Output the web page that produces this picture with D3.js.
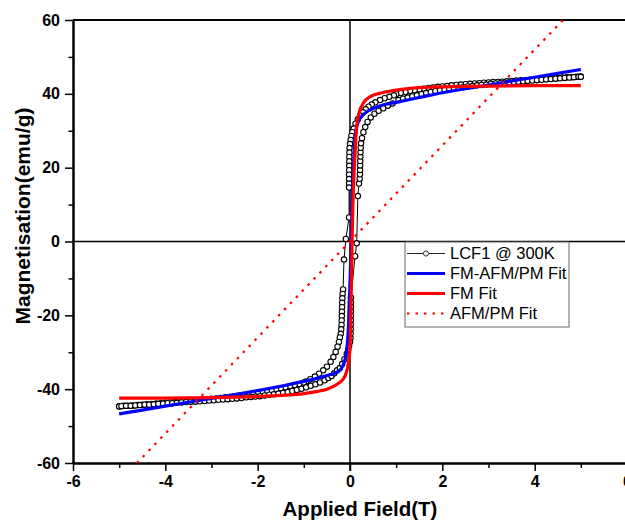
<!DOCTYPE html>
<html>
<head>
<meta charset="utf-8">
<script src="https://cdn.jsdelivr.net/npm/d3@7"></script>
<style>
  body { margin: 0; background: #fff; }
  svg { display: block; }
  text { font-family: "Liberation Sans", Arial, sans-serif; }
</style>
</head>
<body>
<div id="chart"></div>
<script>
// measured loop, LCF1 @ 300K : [field (T), magnetisation (emu/g)]
const descBranch = [
  [5.0,44.7],[4.9,44.6],[4.8,44.5],[4.7,44.5],[4.6,44.4],[4.5,44.3],[4.4,44.2],[4.3,44.1],[4.2,44.1],[4.1,44.0],
  [4.0,43.9],[3.9,43.8],[3.8,43.7],[3.7,43.7],[3.6,43.6],[3.5,43.5],[3.4,43.4],[3.3,43.3],[3.2,43.2],[3.1,43.2],
  [3.0,43.1],[2.9,43.0],[2.8,42.9],[2.7,42.8],[2.6,42.7],[2.5,42.6],[2.4,42.5],[2.3,42.4],[2.2,42.3],[2.1,42.1],
  [2.0,42.0],[1.9,41.9],[1.8,41.7],[1.7,41.6],[1.6,41.4],[1.5,41.2],[1.4,41.0],[1.3,40.8],[1.2,40.5],[1.1,40.2],
  [1.0,39.9],[0.95,39.6],[0.85,39.2],[0.75,38.8],[0.65,38.3],[0.55,37.7],[0.47,37.1],[0.4,36.5],[0.34,35.8],
  [0.28,35.0],[0.22,34.1],[0.17,33.1],[0.12,31.9],[0.08,30.6],[0.05,29.6],[0.03,28.6],[0.015,27.5],[0.0,26.4],
  [-0.01,25.3],[-0.013,24.1],[-0.015,22.9],[-0.016,21.7],[-0.017,20.5],[-0.018,19.3],[-0.019,18.1],[-0.02,16.9],
  [-0.02,15.7],[-0.02,14.6],[-0.02,6.5],[-0.09,0.7],[-0.13,-4.9],[-0.15,-13.0],[-0.16,-14.2],[-0.165,-15.4],
  [-0.17,-16.6],[-0.172,-17.8],[-0.175,-19.0],[-0.177,-20.2],[-0.18,-21.4],[-0.183,-22.6],[-0.19,-23.8],[-0.2,-25.0],
  [-0.22,-26.0],[-0.24,-27.2],[-0.27,-28.5],[-0.31,-29.9],[-0.36,-31.3],[-0.42,-32.6],[-0.5,-33.9],[-0.58,-34.9],
  [-0.67,-35.8],[-0.76,-36.6],[-0.86,-37.3],[-0.95,-37.9],
  [-1.0,-38.2],[-1.1,-38.6],[-1.2,-38.9],[-1.3,-39.2],[-1.4,-39.5],[-1.5,-39.8],[-1.6,-40.1],[-1.7,-40.4],[-1.8,-40.6],[-1.9,-40.8],
  [-2.0,-41.0],[-2.1,-41.2],[-2.2,-41.4],[-2.3,-41.6],[-2.4,-41.8],[-2.5,-41.9],[-2.6,-42.1],[-2.7,-42.2],[-2.8,-42.4],[-2.9,-42.5],
  [-3.0,-42.6],[-3.1,-42.8],[-3.2,-42.9],[-3.3,-43.0],[-3.4,-43.1],[-3.5,-43.2],[-3.6,-43.3],[-3.7,-43.4],[-3.8,-43.5],[-3.9,-43.6],
  [-4.0,-43.7],[-4.1,-43.8],[-4.2,-43.9],[-4.3,-44.0],[-4.4,-44.1],[-4.5,-44.2],[-4.6,-44.3],[-4.7,-44.4],[-4.8,-44.5],[-4.9,-44.5],
  [-5.0,-44.6]
];

const ascBranch = [
  [-5.0,-44.7],[-4.95,-44.6],[-4.85,-44.5],[-4.75,-44.5],[-4.65,-44.4],[-4.55,-44.3],[-4.45,-44.2],[-4.35,-44.2],[-4.25,-44.1],[-4.15,-44.0],
  [-4.05,-43.9],[-3.95,-43.8],[-3.85,-43.8],[-3.75,-43.7],[-3.65,-43.6],[-3.55,-43.5],[-3.45,-43.4],[-3.35,-43.4],[-3.25,-43.3],[-3.15,-43.2],
  [-3.05,-43.1],[-2.95,-43.0],[-2.85,-42.9],[-2.75,-42.8],[-2.65,-42.7],[-2.55,-42.6],[-2.45,-42.5],[-2.35,-42.4],[-2.25,-42.2],[-2.15,-42.1],
  [-2.05,-42.0],[-1.95,-41.9],[-1.85,-41.7],[-1.75,-41.5],[-1.65,-41.4],[-1.55,-41.2],[-1.45,-41.0],[-1.35,-40.8],[-1.25,-40.5],[-1.15,-40.2],
  [-1.05,-39.9],[-0.95,-39.5],[-0.85,-39.1],[-0.75,-38.7],[-0.65,-38.2],[-0.55,-37.6],[-0.47,-37.0],[-0.4,-36.4],[-0.34,-35.7],
  [-0.28,-34.9],[-0.22,-34.3],[-0.17,-33.2],[-0.12,-31.9],[-0.07,-30.4],[-0.04,-29.3],[-0.02,-28.3],[0.0,-27.2],
  [0.01,-26.1],[0.013,-24.9],[0.015,-23.7],[0.016,-22.5],[0.017,-21.3],[0.018,-20.1],[0.019,-18.9],[0.02,-17.7],
  [0.02,-16.5],[0.02,-15.2],[0.11,-4.0],[0.145,-0.5],[0.17,12.3],[0.195,15.7],[0.21,17.0],[0.215,18.2],
  [0.218,19.4],[0.22,20.6],[0.222,21.8],[0.225,23.0],[0.228,24.2],[0.232,25.4],[0.24,26.6],[0.26,28.0],
  [0.29,29.6],[0.33,31.0],[0.38,32.4],[0.45,33.6],[0.53,34.6],[0.62,35.4],[0.72,36.1],[0.82,36.8],[0.92,37.4],
  [1.05,38.3],[1.15,38.7],[1.25,39.0],[1.35,39.3],[1.45,39.6],[1.55,39.9],[1.65,40.2],[1.75,40.5],[1.85,40.7],[1.95,40.9],
  [2.05,41.1],[2.15,41.3],[2.25,41.5],[2.35,41.7],[2.45,41.8],[2.55,42.0],[2.65,42.1],[2.75,42.3],[2.85,42.4],[2.95,42.5],
  [3.05,42.7],[3.15,42.8],[3.25,42.9],[3.35,43.0],[3.45,43.1],[3.55,43.2],[3.65,43.3],[3.75,43.4],[3.85,43.5],[3.95,43.6],
  [4.05,43.7],[4.15,43.8],[4.25,43.9],[4.35,44.0],[4.45,44.1],[4.55,44.2],[4.65,44.3],[4.75,44.4],[4.85,44.5],[4.95,44.6],
  [5.0,44.6]
];

// fits
const fmAfmFit = [
  [-5,-46.7],[-4,-44.6],[-3,-42.5],[-2,-40.4],[-1.5,-39.2],[-1.0,-37.9],[-0.7,-37.0],[-0.5,-36.3],[-0.3,-35.5],
  [-0.2,-34.6],[-0.12,-32.5],[-0.07,-29.5],[-0.03,-22],[0.0,-11],[0.02,-3],[0.04,7],[0.06,16],[0.09,24],
  [0.13,30.3],[0.2,33.0],[0.3,34.5],[0.5,36.0],[0.7,36.9],[1.0,37.7],[1.5,39.0],[2.0,40.3],[3.0,42.4],[4.0,44.5],[5.0,46.6]
];
const fmFit = [
  [-5,-42.4],[-4,-42.4],[-3,-42.3],[-2,-42.0],[-1.5,-41.7],[-1.0,-41.2],[-0.7,-40.6],[-0.5,-40.0],[-0.35,-39.2],
  [-0.25,-38.4],[-0.15,-37.3],[-0.1,-36.2],[-0.06,-34.5],[-0.03,-32.5],[0.0,-28.5],[0.02,-18],[0.035,-8],[0.045,0],
  [0.055,6],[0.07,13],[0.09,19],[0.11,24],[0.13,28.5],[0.16,32.5],[0.2,35],[0.29,37.5],[0.45,39.3],[0.7,40.3],
  [1.0,41.0],[1.5,41.7],[2.0,41.9],[3.0,42.1],[4.0,42.2],[5.0,42.2]
];
const afmPmFit = [[-5,-65],[5,65]];

const xMajor = [-6, -4, -2, 0, 2, 4, 6];
const xMinor = [-5, -3, -1, 1, 3, 5];
const yMajor = [-60, -40, -20, 0, 20, 40, 60];
const yMinor = [-50, -30, -10, 10, 30, 50];
const legendLabels = ['LCF1 @ 300K', 'FM-AFM/PM Fit', 'FM Fit', 'AFM/PM Fit'];

const W = 625, H = 522;
const svg = d3.select('#chart').append('svg').attr('width', W).attr('height', H);

const x = d3.scaleLinear().domain([-6, 6]).range([73, 627]);
const y = d3.scaleLinear().domain([-60, 60]).range([463, 20]);

svg.append('defs').append('clipPath').attr('id', 'plot')
  .append('rect').attr('x', x(-6)).attr('y', y(60)).attr('width', x(6) - x(-6)).attr('height', y(-60) - y(60));

// zero lines
svg.append('line').attr('x1', x(-6)).attr('x2', x(6)).attr('y1', y(0)).attr('y2', y(0))
  .attr('stroke', '#000').attr('stroke-width', 1.5);
svg.append('line').attr('x1', x(0)).attr('x2', x(0)).attr('y1', y(60)).attr('y2', y(-60) + 8)
  .attr('stroke', '#000').attr('stroke-width', 1.5);

// axes
const styleAxis = (g) => {
  g.select('.domain').attr('stroke', '#000').attr('stroke-width', 2);
  g.selectAll('.tick line').attr('stroke', '#000').attr('stroke-width', 1.5);
  g.selectAll('.tick text').attr('fill', '#000').attr('font-size', 16).attr('font-weight', 'bold')
    .attr('font-family', '"Liberation Sans", Arial, sans-serif');
};

svg.append('g').attr('transform', `translate(0,${y(-60)})`)
  .call(d3.axisBottom(x).tickValues(xMinor).tickSize(5).tickFormat('').tickSizeOuter(0)).call(styleAxis);
svg.append('g').attr('transform', `translate(0,${y(-60)})`)
  .call(d3.axisBottom(x).tickValues(xMajor).tickSize(8).tickPadding(5).tickFormat((d) => String(d)).tickSizeOuter(0))
  .call(styleAxis);
svg.append('g').attr('transform', `translate(${x(-6)},0)`)
  .call(d3.axisLeft(y).tickValues(yMinor).tickSize(4.5).tickFormat('').tickSizeOuter(0)).call(styleAxis);
svg.append('g').attr('transform', `translate(${x(-6)},0)`)
  .call(d3.axisLeft(y).tickValues(yMajor).tickSize(8).tickPadding(5).tickFormat((d) => String(d)).tickSizeOuter(0))
  .call(styleAxis);

// frame top / right
svg.append('line').attr('x1', x(-6)).attr('x2', x(6)).attr('y1', y(60)).attr('y2', y(60))
  .attr('stroke', '#000').attr('stroke-width', 2);
svg.append('line').attr('x1', x(6)).attr('x2', x(6)).attr('y1', y(60)).attr('y2', y(-60))
  .attr('stroke', '#000').attr('stroke-width', 2);

// titles
svg.append('text').attr('x', 360).attr('y', 516).attr('text-anchor', 'middle')
  .attr('font-size', 20.5).attr('font-weight', 'bold').text('Applied Field(T)');
svg.append('text').attr('transform', 'translate(30,216) rotate(-90)').attr('text-anchor', 'middle')
  .attr('font-size', 21).attr('font-weight', 'bold').text('Magnetisation(emu/g)');

const plot = svg.append('g').attr('clip-path', 'url(#plot)');
const line = d3.line().x((d) => x(d[0])).y((d) => y(d[1]));
const smooth = d3.line().x((d) => x(d[0])).y((d) => y(d[1])).curve(d3.curveMonotoneX);

// measured data
[descBranch, ascBranch].forEach((branch) => {
  plot.append('path').datum(branch).attr('d', line)
    .attr('fill', 'none').attr('stroke', '#000').attr('stroke-width', 1);
});
plot.append('g').selectAll('circle')
  .data(descBranch.concat(ascBranch))
  .enter().append('circle')
  .attr('cx', (d) => x(d[0])).attr('cy', (d) => y(d[1])).attr('r', 2.7)
  .attr('fill', '#fff').attr('stroke', '#000').attr('stroke-width', 1.1);

plot.append('path').datum(fmAfmFit).attr('d', smooth)
  .attr('fill', 'none').attr('stroke', '#0000ff').attr('stroke-width', 3.2);
plot.append('path').datum(fmFit).attr('d', smooth)
  .attr('fill', 'none').attr('stroke', '#ff0000').attr('stroke-width', 3.2);
plot.append('path').datum(afmPmFit).attr('d', line)
  .attr('fill', 'none').attr('stroke', '#ff0000').attr('stroke-width', 2.2).attr('stroke-dasharray', '2.5,6');

// legend
const legend = svg.append('g').attr('transform', 'translate(405,242)');
legend.append('rect').attr('x', 0).attr('y', 0).attr('width', 164).attr('height', 85)
  .attr('fill', '#fff').attr('stroke', '#666').attr('stroke-width', 1);
const rows = legend.selectAll('g.row').data(legendLabels).enter().append('g')
  .attr('transform', (d, i) => `translate(0,${11.5 + i * 20})`);
rows.append('line').attr('x1', 2).attr('x2', 40).attr('y1', 0).attr('y2', 0)
  .attr('stroke', (d, i) => (i === 0 ? '#222' : i === 1 ? '#0000ff' : '#ff0000'))
  .attr('stroke-width', (d, i) => (i === 0 ? 1 : i === 3 ? 2.2 : 3.2))
  .attr('stroke-dasharray', (d, i) => (i === 3 ? '2.5,6' : null));
rows.filter((d, i) => i === 0).append('circle').attr('cx', 21).attr('cy', 0).attr('r', 2.6)
  .attr('fill', '#fff').attr('stroke', '#222').attr('stroke-width', 0.9);
rows.append('text').attr('x', 45).attr('y', 5.5).attr('font-size', 16.5).attr('fill', '#000').text((d) => d);
</script>
</body>
</html>
